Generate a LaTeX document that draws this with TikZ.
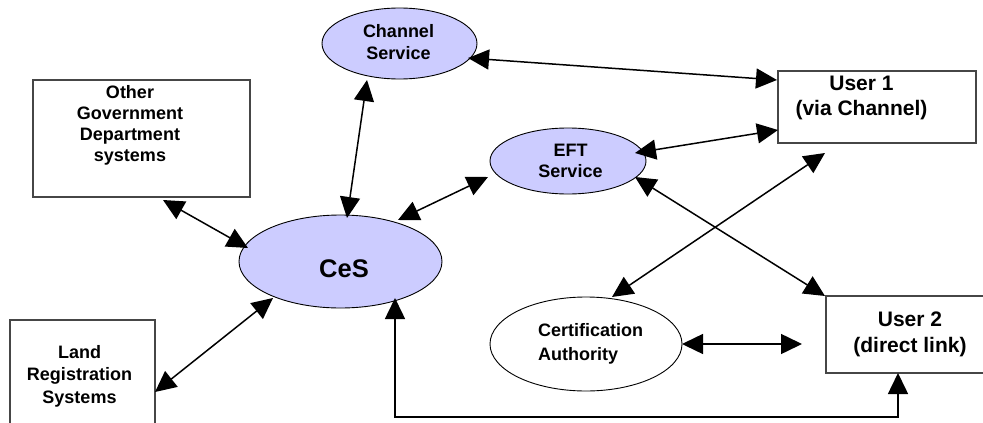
\documentclass[tikz,border=0pt]{standalone}
\usepackage{fontspec}
\setmainfont{Liberation Sans}
\usetikzlibrary{arrows.meta,calc,shapes.geometric}
\definecolor{lav}{RGB}{204,204,255}
\definecolor{boxgray}{RGB}{70,70,70}
\begin{document}
\begin{tikzpicture}[x=1pt,y=-1pt,
  boxnode/.style={draw=boxgray, line width=1.3pt, rectangle, inner sep=0pt, outer sep=0pt},
  ovalnode/.style={draw=black, line width=0.9pt, ellipse, fill=lav, inner sep=0pt, outer sep=0pt},
  lbl/.style={font=\fontsize{18}{22}\selectfont\bfseries, align=center, inner sep=0pt},
  ulbl/.style={font=\fontsize{21}{26}\selectfont\bfseries, align=center, inner sep=0pt},
  link/.style={line width=1.5pt, {Triangle[length=21pt,width=20pt]}-{Triangle[length=21pt,width=20pt]}}
]
\path[use as bounding box] (0,0) rectangle (983,423);
\clip (0,0) rectangle (983,423);

% shapes
\node[boxnode, minimum width=217pt, minimum height=117pt] (ogd) at (141.5,138.5) {};
\node[boxnode, minimum width=145pt, minimum height=130pt] (lrs) at (82.5,385) {};
\node[boxnode, minimum width=198pt, minimum height=72pt] (u1) at (877,107) {};
\node[boxnode, minimum width=200pt, minimum height=77pt] (u2) at (926,334.5) {};
\node[ovalnode, minimum width=155pt, minimum height=71pt] (chan) at (399.5,43.5) {};
\node[ovalnode, minimum width=156pt, minimum height=66pt] (eft) at (568,161) {};
\node[ovalnode, minimum width=203pt, minimum height=93pt] (ces) at (340.5,261.5) {};
\node[ovalnode, fill=white, minimum width=192pt, minimum height=94pt] (ca) at (586,344) {};

% texts
\node[lbl, font=\fontsize{18}{21.3}\selectfont\bfseries] (ogdt) at (130,125.3) {Other\\Government\\Department\\systems};
\node[lbl, font=\fontsize{18}{22.5}\selectfont\bfseries] (lrst) at (79.5,375.9) {Land\\Registration\\Systems};
\node[lbl] (chant) at (398.5,42.5) {Channel\\Service};
\node[lbl, font=\fontsize{18}{21}\selectfont\bfseries] (eftt) at (570.5,161) {EFT\\Service};
\node[font=\fontsize{25.5}{30}\selectfont\bfseries, inner sep=0pt] (cest) at (344,269) {CeS};
\node[lbl, align=left, anchor=west, font=\fontsize{18}{24}\selectfont\bfseries] (cat) at (538,344) {Certification\\Authority};
\node[ulbl, font=\fontsize{21}{25}\selectfont\bfseries] (u1t) at (861.5,98.2) {User 1\\(via Channel)};
\node[ulbl] (u2t) at (910,334.7) {User 2\\(direct link)};

% connectors
\draw[link] ($(chan)+(68.5,14.5)$) -- ($(u1)+(-100,-27)$);
\draw[link] ($(chan)+(-32.5,36.5)$) -- ($(ces)+(6.5,-43.5)$);
\draw[link] ($(ces)+(57.5,-41.5)$) -- ($(eft)+(-80,16)$);
\draw[link] ($(ogd)+(21.5,61.5)$) -- ($(ces)+(-92.5,-13.5)$);
\draw[link] ($(ces)+(-67.5,36.5)$) -- ($(lrs)+(72.5,7)$);
\draw[link] ($(eft)+(67,-8)$) -- ($(u1)+(-99,23)$);
\draw[link] ($(eft)+(67,16)$) -- ($(u2)+(-101,-38.5)$);
\draw[link] ($(ca)+(26,-47)$) -- ($(u1)+(-52,46)$);
\draw[link] ($(ca)+(96,0)$) -- ($(u2)+(-124,9.5)$);
\draw[link] ($(ces)+(54.5,36.5)$) -- ++(0,119) -| ($(u2)+(-28,38.5)$);
\end{tikzpicture}
\end{document}
